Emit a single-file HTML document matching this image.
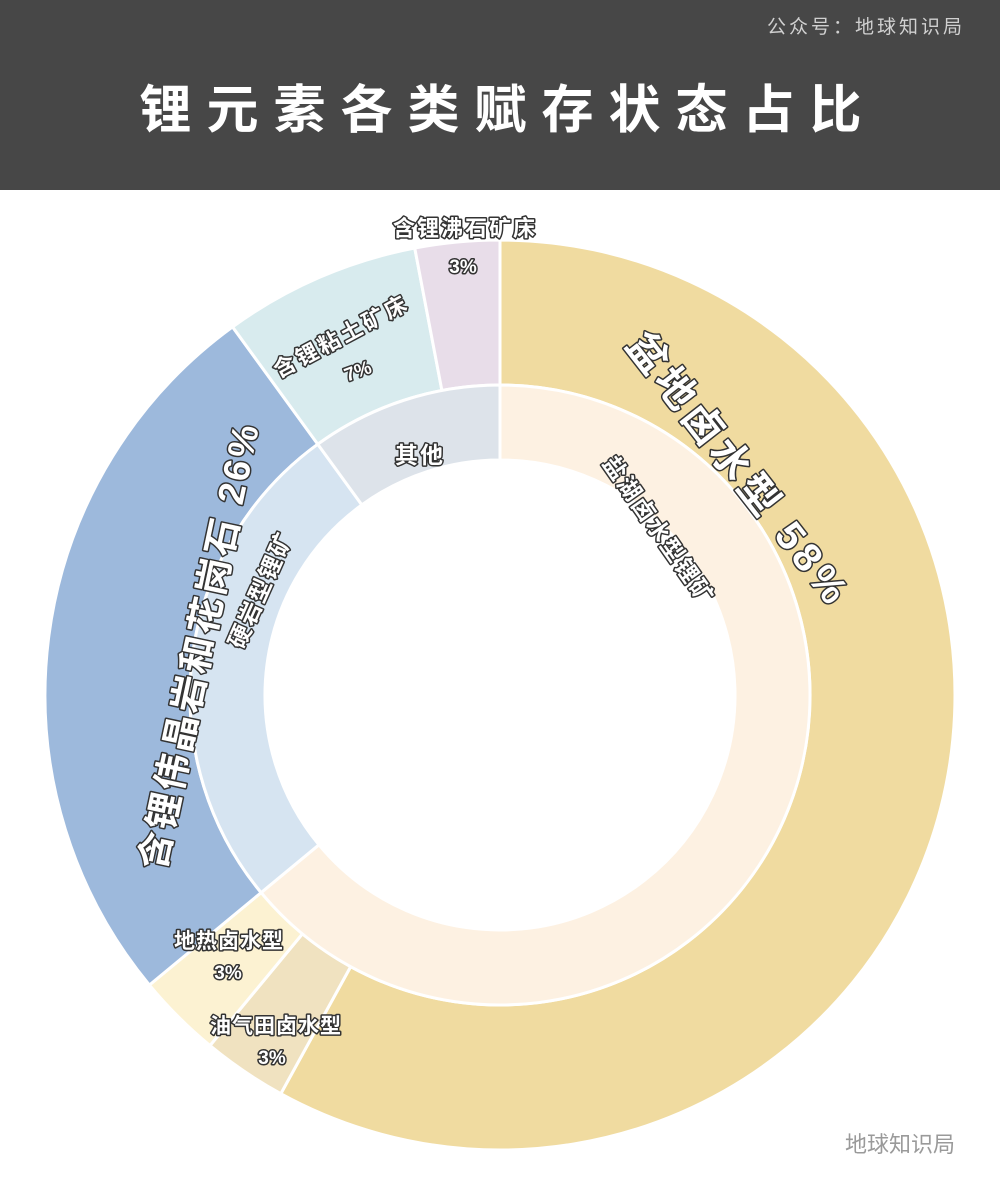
<!DOCTYPE html>
<html><head><meta charset="utf-8"><style>
html,body{margin:0;padding:0;background:#fff;}
svg{display:block;font-family:"Liberation Sans","Noto Sans CJK SC",sans-serif;}
.lb{fill:#fff;stroke:#333;stroke-width:3px;paint-order:stroke;stroke-linejoin:round;font-weight:bold;}
</style></head><body>
<svg id="chart" width="1000" height="1190" viewBox="0 0 1000 1190">
<rect x="0" y="0" width="1000" height="190" fill="#474747"/>
<text x="866" y="33" font-size="19" fill="#d0d0d0" text-anchor="middle" letter-spacing="3">公众号：地球知识局</text>
<text x="508" y="128" font-size="52" font-weight="bold" fill="#fff" text-anchor="middle" letter-spacing="15">锂元素各类赋存状态占比</text>
<g id="rings"></g>
<g id="labels">
<text class="lb" font-size="40" letter-spacing="5" transform="translate(728,478) rotate(52)" text-anchor="middle">盆地卤水型 58%</text>
<text class="lb" font-size="37" letter-spacing="3" transform="translate(212,648) rotate(-78)" text-anchor="middle">含锂伟晶岩和花岗石 26%</text>
<text class="lb" font-size="23" letter-spacing="2" transform="translate(652,535) rotate(55)" text-anchor="middle">盐湖卤水型锂矿</text>
<text class="lb" font-size="23" letter-spacing="2" transform="translate(268,593) rotate(-66)" text-anchor="middle">硬岩型锂矿</text>
<text class="lb" font-size="23" letter-spacing="2" x="420" y="463" text-anchor="middle">其他</text>
<text class="lb" font-size="22" letter-spacing="3" transform="translate(345,343) rotate(-28)" text-anchor="middle">含锂粘土矿床</text>
<text class="lb" font-size="19" transform="translate(360,377) rotate(-20)" text-anchor="middle">7%</text>
<text class="lb" font-size="22" letter-spacing="2" x="465" y="236" text-anchor="middle">含锂沸石矿床</text>
<text class="lb" font-size="19" x="463" y="273" text-anchor="middle">3%</text>
<text class="lb" font-size="21" letter-spacing="1" x="229" y="948" text-anchor="middle">地热卤水型</text>
<text class="lb" font-size="19" x="228" y="979" text-anchor="middle">3%</text>
<text class="lb" font-size="21" letter-spacing="1" x="276" y="1033" text-anchor="middle">油气田卤水型</text>
<text class="lb" font-size="19" x="272" y="1064" text-anchor="middle">3%</text>
</g>
<text x="900" y="1152" font-size="22" fill="#9a9a9a" text-anchor="middle">地球知识局</text>
</svg>
<script>
const outerNames=["盆地卤水型","油气田卤水型","地热卤水型","含锂伟晶岩和花岗石","含锂粘土矿床","含锂沸石矿床"];
const outerValues=[58,3,3,26,7,3];
const innerNames=["盐湖卤水型锂矿","硬岩型锂矿","其他"];
const innerValues=[64,26,10];
const outerColors=["#f0dba0","#f0e2c0","#fcf2d2","#9db9dc","#d8ebee","#e8dde9"];
const innerColors=["#fdf1e2","#d6e4f1","#dde3ea"];
const cx=500,cy=695;
function pt(r,a){return [cx+r*Math.sin(a),cy-r*Math.cos(a)];}
function arc(r0,r1,a0,a1){
  const l=(a1-a0)>Math.PI?1:0;
  const p1=pt(r1,a0),p2=pt(r1,a1),p3=pt(r0,a1),p4=pt(r0,a0);
  return `M${p1}A${r1},${r1} 0 ${l} 1 ${p2}L${p3}A${r0},${r0} 0 ${l} 0 ${p4}Z`;
}
const g=document.getElementById('rings');
function ring(vals,cols,names,r0,r1,prefix){
  const tot=vals.reduce((a,b)=>a+b,0);let a=0;
  vals.forEach((v,i)=>{
    const a1=a+v/tot*2*Math.PI;
    const p=document.createElementNS('http://www.w3.org/2000/svg','path');
    p.setAttribute('d',arc(r0,r1,a,a1));
    p.setAttribute('fill',cols[i]);
    p.setAttribute('stroke','#fff');
    p.setAttribute('stroke-width','3');
    
    
    const t=document.createElementNS('http://www.w3.org/2000/svg','title');t.textContent=names[i]+' '+v+'%';p.appendChild(t);
    g.appendChild(p);a=a1;
  });
}
ring(outerValues,outerColors,outerNames,310,455,'outer');
ring(innerValues,innerColors,innerNames,235,310,'inner');
</script>
</body></html>
